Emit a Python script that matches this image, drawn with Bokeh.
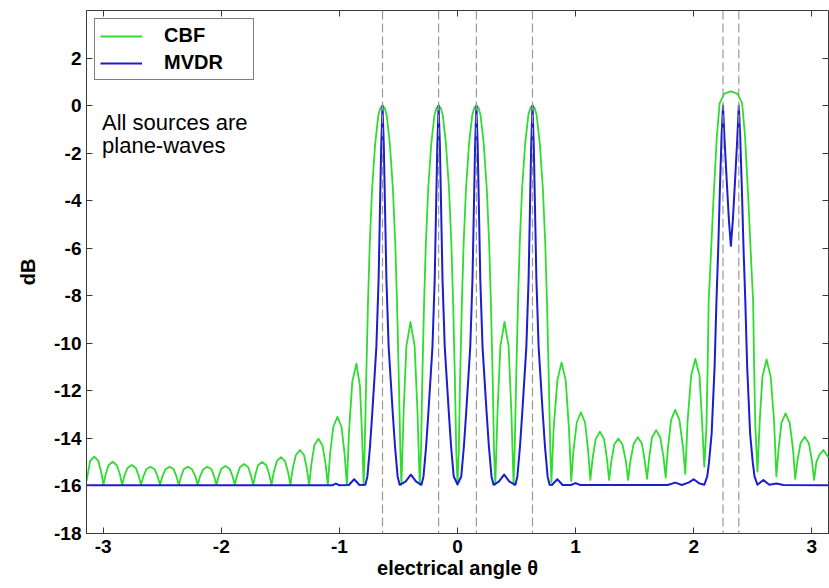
from bokeh.plotting import figure
from bokeh.models import (Range1d, FixedTicker, LinearAxis, Label, Legend,
                          LegendItem, Span, CustomJSTickFormatter)
from bokeh.embed import file_html
from bokeh.resources import INLINE

# ---------------- data ----------------
x_ticks = [-3, -2, -1, 0, 1, 2, 3]
y_ticks = [-18, -16, -14, -12, -10, -8, -6, -4, -2, 0, 2]
x_range = (-3.1416, 3.1416)
y_range = (-18, 4)

# true source directions (dashed lines)
sources = [-0.635, -0.16, 0.16, 0.635, 2.248, 2.382]

# CBF (conventional beamformer) spectrum, dB
cbf_theta = [
    -3.1416, -3.111, -3.076, -3.041, -3.017, -2.998,
    -2.979, -2.955, -2.920, -2.885, -2.859, -2.840,
    -2.821, -2.794, -2.759, -2.724, -2.699, -2.680,
    -2.661, -2.635, -2.600, -2.565, -2.538, -2.519,
    -2.500, -2.473, -2.438, -2.403, -2.379, -2.360,
    -2.341, -2.318, -2.283, -2.248, -2.219, -2.200,
    -2.181, -2.153, -2.118, -2.083, -2.060, -2.041,
    -2.022, -2.000, -1.965, -1.930, -1.905, -1.886,
    -1.867, -1.842, -1.807, -1.772, -1.749, -1.730,
    -1.711, -1.689, -1.654, -1.619, -1.594, -1.575,
    -1.556, -1.530, -1.495, -1.460, -1.434, -1.415,
    -1.396, -1.369, -1.334, -1.299, -1.275, -1.256,
    -1.237, -1.213, -1.178, -1.143, -1.117, -1.098,
    -1.079, -1.052, -1.017, -0.982, -0.956, -0.937,
    -0.918, -0.891, -0.856, -0.826, -0.808, -0.795,
    -0.786, -0.773, -0.758, -0.743, -0.723, -0.697, -0.670, -0.653, -0.635,
    -0.617, -0.600, -0.573, -0.547, -0.527, -0.512, -0.497, -0.484, -0.475,
    -0.456, -0.433, -0.398, -0.363, -0.339, -0.320,
    -0.309, -0.298, -0.283, -0.268, -0.248, -0.222, -0.195, -0.178, -0.160,
    -0.142, -0.125, -0.098, -0.072, -0.052, -0.037, -0.022, -0.011, 0.000,
    0.011, 0.022, 0.037, 0.052, 0.072, 0.098, 0.125, 0.142, 0.160,
    0.178, 0.195, 0.222, 0.248, 0.268, 0.283, 0.298, 0.309, 0.320,
    0.339, 0.363, 0.398, 0.433, 0.456, 0.475,
    0.484, 0.497, 0.512, 0.527, 0.547, 0.573, 0.600, 0.617, 0.635,
    0.653, 0.670, 0.697, 0.723, 0.743, 0.758, 0.773, 0.786, 0.795,
    0.814, 0.846, 0.881, 0.916, 0.944, 0.963,
    0.982, 1.010, 1.045, 1.080, 1.106, 1.125,
    1.144, 1.171, 1.206, 1.241, 1.265, 1.284,
    1.303, 1.327, 1.362, 1.397, 1.426, 1.445,
    1.464, 1.492, 1.527, 1.562, 1.586, 1.605,
    1.624, 1.647, 1.682, 1.717, 1.744, 1.763,
    1.782, 1.809, 1.844, 1.879, 1.910, 1.929,
    1.948, 1.979, 2.014, 2.049, 2.071, 2.090,
    2.108, 2.118, 2.127, 2.140, 2.166, 2.196, 2.220, 2.260, 2.315,
    2.370, 2.410, 2.435, 2.464, 2.490, 2.503, 2.512, 2.522, 2.540,
    2.559, 2.582, 2.617, 2.652, 2.681, 2.700,
    2.719, 2.743, 2.778, 2.813, 2.841, 2.860,
    2.879, 2.905, 2.940, 2.975, 3.001, 3.020,
    3.039, 3.063, 3.098, 3.1416,
]
cbf_db = [
    -15.80, -14.95, -14.77, -14.95, -15.42, -15.95,
    -15.51, -15.13, -14.98, -15.13, -15.51, -15.95,
    -15.58, -15.24, -15.12, -15.24, -15.58, -15.95,
    -15.61, -15.30, -15.19, -15.30, -15.61, -15.95,
    -15.61, -15.30, -15.19, -15.30, -15.61, -15.95,
    -15.61, -15.30, -15.19, -15.30, -15.61, -15.95,
    -15.61, -15.30, -15.19, -15.30, -15.61, -15.95,
    -15.59, -15.28, -15.16, -15.28, -15.59, -15.95,
    -15.56, -15.21, -15.08, -15.21, -15.56, -15.95,
    -15.52, -15.13, -14.99, -15.13, -15.52, -15.95,
    -15.43, -14.96, -14.79, -14.96, -15.43, -15.95,
    -15.29, -14.71, -14.49, -14.71, -15.29, -15.95,
    -15.08, -14.30, -14.01, -14.30, -15.08, -15.95,
    -14.66, -13.52, -13.09, -13.52, -14.66, -15.95,
    -13.66, -11.62, -10.85, -11.80, -13.90, -15.95,
    -14.5, -11.5, -8.3, -5.8, -3.5, -1.6, -0.4, -0.1, 0.0,
    -0.1, -0.4, -1.6, -3.5, -5.8, -8.3, -11.5, -14.5, -15.95,
    -12.87, -10.13, -9.1, -10.13, -12.87, -15.95,
    -14.5, -11.5, -8.3, -5.8, -3.5, -1.6, -0.4, -0.1, 0.0,
    -0.1, -0.4, -1.6, -3.5, -5.8, -8.3, -11.5, -14.5, -15.95,
    -14.5, -11.5, -8.3, -5.8, -3.5, -1.6, -0.4, -0.1, 0.0,
    -0.1, -0.4, -1.6, -3.5, -5.8, -8.3, -11.5, -14.5, -15.95,
    -12.87, -10.13, -9.1, -10.13, -12.87, -15.95,
    -14.5, -11.5, -8.3, -5.8, -3.5, -1.6, -0.4, -0.1, 0.0,
    -0.1, -0.4, -1.6, -3.5, -5.8, -8.3, -11.5, -14.5, -15.85,
    -13.6, -11.55, -10.8, -11.55, -13.6, -15.8,
    -14.5, -13.33, -12.9, -13.33, -14.5, -15.75,
    -14.84, -14.02, -13.72, -14.02, -14.84, -15.75,
    -14.96, -14.26, -14.0, -14.26, -14.96, -15.75,
    -14.95, -14.22, -13.95, -14.22, -14.95, -15.7,
    -14.78, -13.96, -13.65, -13.96, -14.78, -15.65,
    -14.4, -13.22, -12.8, -13.22, -14.4, -15.5,
    -13.3, -11.35, -10.65, -11.35, -13.3, -15.2,
    -13.5, -11.0, -8.2, -6.9, -4.1, -1.3, 0.1, 0.5, 0.6,
    0.5, 0.1, -1.3, -4.1, -6.9, -8.2, -11.0, -13.5, -15.4,
    -13.3, -11.4, -10.68, -11.4, -13.3, -15.6,
    -14.45, -13.35, -12.95, -13.35, -14.45, -15.7,
    -14.93, -14.2, -13.93, -14.2, -14.93, -15.75,
    -15.0, -14.70, -14.49, -14.80,
]

# MVDR (Capon) spectrum, dB
mvdr_theta = [
    -3.1416, -1.06, -1.03, -1.00, -0.92, -0.875, -0.83,
    -0.780, -0.763, -0.741, -0.722, -0.705, -0.687, -0.668, -0.657, -0.646, -0.635,
    -0.624, -0.613, -0.602, -0.583, -0.565, -0.548, -0.529, -0.507, -0.490,
    -0.44, -0.395, -0.35,
    -0.305, -0.288, -0.266, -0.247, -0.230, -0.212, -0.193, -0.182, -0.171, -0.160,
    -0.149, -0.138, -0.127, -0.108, -0.090, -0.073, -0.054, -0.032, 0.000,
    0.032, 0.054, 0.073, 0.090, 0.108, 0.127, 0.138, 0.149, 0.160,
    0.171, 0.182, 0.193, 0.212, 0.230, 0.247, 0.266, 0.288, 0.305,
    0.35, 0.395, 0.44,
    0.490, 0.507, 0.529, 0.548, 0.565, 0.583, 0.602, 0.613, 0.624, 0.635,
    0.646, 0.657, 0.668, 0.687, 0.705, 0.722, 0.741, 0.763, 0.780,
    0.80, 0.845, 0.89, 0.96, 1.00, 1.04, 1.78, 1.844, 1.90, 1.96, 2.00, 2.05,
    2.090, 2.115, 2.130, 2.152, 2.177, 2.193, 2.208, 2.222, 2.236, 2.248,
    2.262, 2.278, 2.298, 2.315, 2.332, 2.352, 2.368, 2.382,
    2.394, 2.408, 2.422, 2.437, 2.453, 2.478, 2.500, 2.515, 2.540,
    2.59, 2.64, 2.70, 2.76, 3.1416,
]
mvdr_db = [
    -15.97, -15.97, -15.90, -15.97, -15.96, -15.72, -15.96,
    -15.95, -15.6, -14.35, -12.95, -11.6, -10.15, -7.3, -4.5, -1.7, 0.0,
    -1.7, -4.5, -7.3, -10.15, -11.6, -12.95, -14.35, -15.6, -15.95,
    -15.82, -15.52, -15.82,
    -15.95, -15.6, -14.35, -12.95, -11.6, -10.15, -7.3, -4.5, -1.7, 0.0,
    -1.7, -4.5, -7.3, -10.15, -11.6, -12.95, -14.35, -15.6, -15.93,
    -15.6, -14.35, -12.95, -11.6, -10.15, -7.3, -4.5, -1.7, 0.0,
    -1.7, -4.5, -7.3, -10.15, -11.6, -12.95, -14.35, -15.6, -15.95,
    -15.82, -15.52, -15.82,
    -15.95, -15.6, -14.35, -12.95, -11.6, -10.15, -7.3, -4.5, -1.7, 0.0,
    -1.7, -4.5, -7.3, -10.15, -11.6, -12.95, -14.35, -15.6, -15.95,
    -15.96, -15.72, -15.96, -15.96, -15.88, -15.96, -15.96, -15.86, -15.96, -15.85, -15.72, -15.90,
    -15.95, -15.6, -15.0, -13.8, -11.0, -8.2, -6.0, -3.5, -1.3, 0.0,
    -1.5, -3.0, -4.8, -5.9, -4.8, -3.0, -1.5, 0.0,
    -1.3, -3.5, -6.0, -8.2, -11.0, -13.8, -15.0, -15.6, -15.95,
    -15.75, -15.95, -15.90, -15.96, -15.97,
]

FONT = "Liberation Sans"
AXIS_COLOR = "#3a3a3a"

p = figure(width=829, height=588, output_backend="svg", toolbar_location=None,
           x_range=Range1d(*x_range), y_range=Range1d(*y_range),
           min_border_left=86, min_border_right=1, min_border_top=10,
           min_border_bottom=55, background_fill_color="white",
           border_fill_color="white")
p.grid.visible = False
p.outline_line_color = AXIS_COLOR
p.outline_line_width = 1

# dashed source lines
for s in sources:
    p.add_layout(Span(location=s, dimension="height", line_color="#999999",
                      line_width=1.2, line_dash="9 4"))

r_cbf = p.line(cbf_theta, cbf_db, line_color="#2fdc2f", line_width=1.8,
               line_join="round")
r_mvdr = p.line(mvdr_theta, mvdr_db, line_color="#1c1cd0", line_width=2.0,
                line_join="round")

plain = CustomJSTickFormatter(code="return String(tick)")

# axes
for ax in (p.xaxis[0], p.yaxis[0]):
    ax.formatter = plain
    ax.axis_line_color = AXIS_COLOR
    ax.major_tick_line_color = AXIS_COLOR
    ax.major_tick_in = 6
    ax.major_tick_out = 0
    ax.minor_tick_line_color = None
    ax.major_label_text_font = FONT
    ax.major_label_text_font_style = "bold"
    ax.major_label_text_font_size = "19px"
    ax.major_label_text_color = "black"
    ax.axis_label_text_font = FONT
    ax.axis_label_text_font_style = "bold"
    ax.axis_label_text_font_size = "20px"
    ax.axis_label_text_color = "black"

p.xaxis[0].ticker = FixedTicker(ticks=x_ticks)
p.yaxis[0].ticker = FixedTicker(ticks=y_ticks)
p.xaxis[0].axis_label = "electrical angle θ"
p.yaxis[0].axis_label = "dB"
p.xaxis[0].major_label_standoff = 6
p.xaxis[0].axis_label_standoff = 1
p.yaxis[0].major_label_standoff = 5
p.yaxis[0].axis_label_standoff = 12

# mirrored ticks on top and right (box on)
blank = CustomJSTickFormatter(code="return ''")
top = LinearAxis(ticker=FixedTicker(ticks=x_ticks), formatter=blank)
right = LinearAxis(ticker=FixedTicker(ticks=y_ticks), formatter=blank)
for ax in (top, right):
    ax.axis_line_color = None
    ax.major_tick_line_color = AXIS_COLOR
    ax.major_tick_in = 6
    ax.major_tick_out = 0
    ax.minor_tick_line_color = None
    ax.major_label_standoff = 0
    ax.major_label_text_font_size = "1px"
p.add_layout(top, "above")
p.add_layout(right, "right")

# legend
legend = Legend(items=[LegendItem(label="CBF", renderers=[r_cbf]),
                       LegendItem(label="MVDR", renderers=[r_mvdr])],
                location="top_left", margin=8, padding=5, spacing=4,
                glyph_width=42, glyph_height=20, label_height=20,
                label_standoff=22, label_width=84,
                label_text_font=FONT, label_text_font_style="bold",
                label_text_font_size="20px", label_text_color="black",
                border_line_color="black", border_line_width=1,
                background_fill_color="white", background_fill_alpha=1.0)
p.add_layout(legend)

# annotation text
p.add_layout(Label(x=-3.01, y=-0.72, text="All sources are",
                   text_font=FONT, text_font_size="22px", text_color="black",
                   text_baseline="alphabetic"))
p.add_layout(Label(x=-3.01, y=-1.68, text="plane-waves",
                   text_font=FONT, text_font_size="22px", text_color="black",
                   text_baseline="alphabetic"))

open("out.html", "w").write(file_html(p, INLINE))
